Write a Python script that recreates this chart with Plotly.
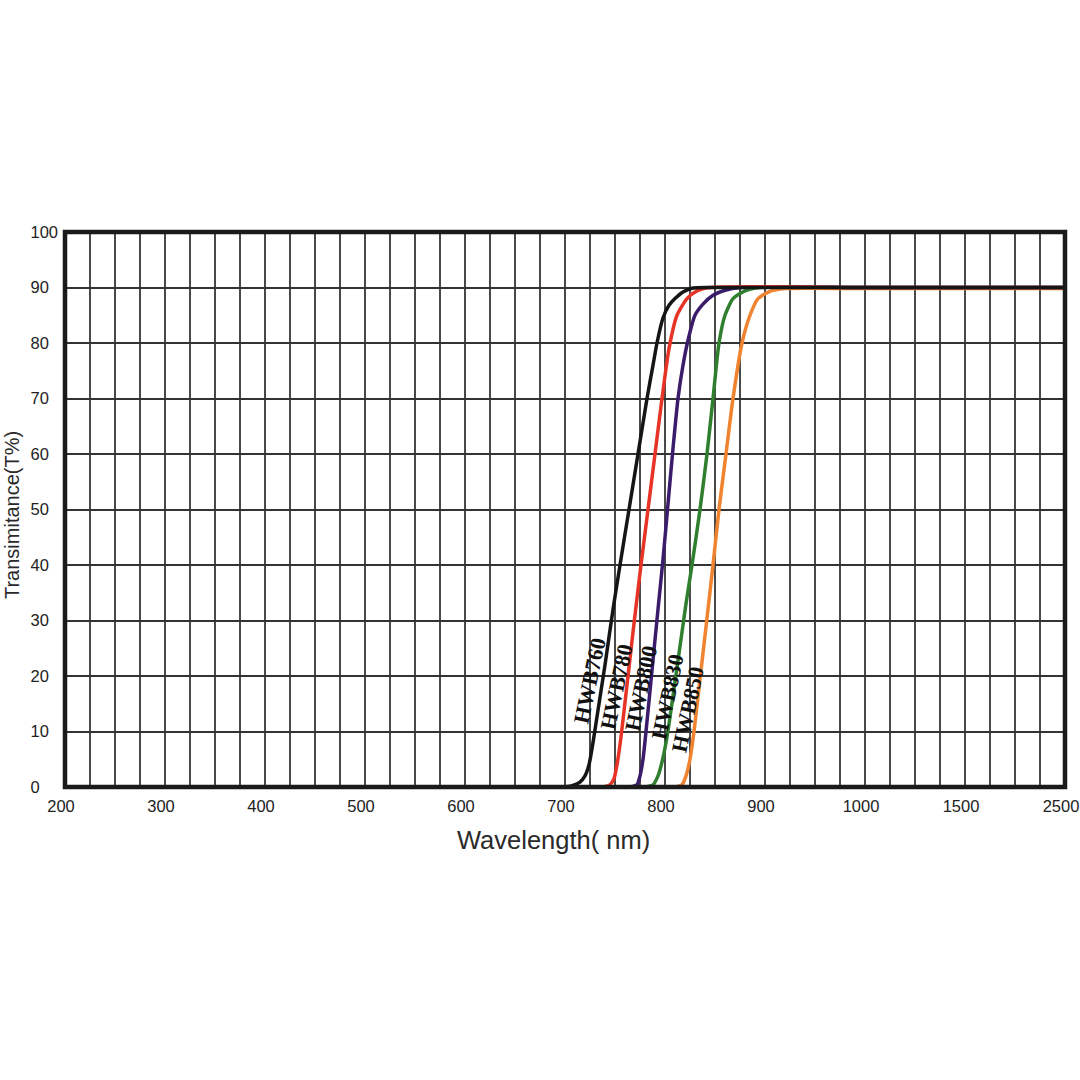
import plotly.graph_objects as go

# ---------------- data ----------------
tick_wavelengths = [200, 300, 400, 500, 600, 700, 800, 900, 1000, 1500, 2500]
tick_labels = ["200", "300", "400", "500", "600", "700", "800", "900", "1000", "1500", "2500"]

series_names = ["HWB760", "HWB780", "HWB800", "HWB830", "HWB850"]

hwb760_wl = [700, 708, 715, 720, 724, 728, 734, 740, 748, 755, 764, 773, 782, 788, 792, 798, 804, 810, 818, 828, 845, 1000, 2500]
hwb760_t = [0, 0.3, 0.9, 2, 4, 8, 15, 22, 32, 40, 50, 60, 70, 76, 80, 84.5, 86.8, 88, 89.2, 89.9, 90, 90, 90]

hwb780_wl = [738, 745, 749, 752, 756, 763, 770, 776, 783, 790, 797, 804, 812, 822, 832, 845, 1000, 2500]
hwb780_t = [0, 0.4, 1.5, 4, 9, 20, 31, 40, 50, 60, 70, 79, 85, 88, 89.4, 90, 90, 90]

hwb800_wl = [765, 772, 775, 778, 781, 787, 793, 798, 803, 808, 813, 818, 823, 830, 838, 848, 860, 875, 1000, 2500]
hwb800_t = [0, 0.4, 2, 5, 10, 21, 32, 41, 51, 61, 70, 76, 80.5, 85, 87, 88.6, 89.5, 90, 90, 90]

hwb830_wl = [780, 788, 793, 797, 802, 812, 821, 827, 835, 842, 848, 854, 860, 868, 880, 895, 1000, 2500]
hwb830_t = [0, 0.4, 2, 4.5, 9, 21.5, 33, 40, 50, 60, 70, 80, 85, 88, 89.4, 90, 90, 90]

hwb850_wl = [810, 817, 821, 825, 829, 836, 843, 848, 854, 861, 868, 877, 885, 893, 905, 920, 1000, 2500]
hwb850_t = [0, 0.4, 2, 5, 10, 21, 32, 40, 50, 60, 70, 80, 85, 88, 89.3, 89.8, 89.8, 89.8]

y_ticks = [0, 10, 20, 30, 40, 50, 60, 70, 80, 90, 100]

# label anchor positions (wavelength, transmittance)
label_wl = [724, 751, 776, 802, 823]
label_t = [19.1, 18.0, 17.7, 16.2, 13.9]

colors = ["#151515", "#e63427", "#3b1c6b", "#2f7f2f", "#f0832f"]


def pos(w):
    """Piecewise axis position used by the chart's wavelength scale."""
    if w <= 1000:
        return (w - 200) / 100.0
    elif w <= 1500:
        return 8 + (w - 1000) / 500.0
    else:
        return 9 + (w - 1500) / 1000.0


series_wl = [hwb760_wl, hwb780_wl, hwb800_wl, hwb830_wl, hwb850_wl]
series_t = [hwb760_t, hwb780_t, hwb800_t, hwb830_t, hwb850_t]

fig = go.Figure()

# draw in reverse so black lies on top of the shared plateau
for i in reversed(range(len(series_names))):
    fig.add_trace(go.Scatter(
        x=[pos(w) for w in series_wl[i]],
        y=series_t[i],
        mode="lines",
        name=series_names[i],
        line=dict(color=colors[i], width=3.5, shape="spline", smoothing=0.6),
        showlegend=False,
        hoverinfo="skip",
    ))

# gridlines every quarter of a labelled interval
grid_vals = [i * 0.25 for i in range(41)]
label_map = {pos(w): t for w, t in zip(tick_wavelengths, tick_labels)}
grid_text = [label_map.get(v, "") for v in grid_vals]

fig.update_xaxes(
    range=[0, 10],
    tickmode="array",
    tickvals=grid_vals,
    ticktext=grid_text,
    showgrid=True,
    gridcolor="#4a4a4a",
    gridwidth=1.5,
    zeroline=False,
    showline=False,
    ticks="",
    tickfont=dict(family="Liberation Sans, Arial, sans-serif", size=16.5, color="#222222"),
    ticklabelstandoff=7,
    ticklabelshift=-4,
    ticklabeloverflow="allow",
    automargin=False,
)

fig.update_yaxes(
    range=[0, 100],
    tickmode="array",
    tickvals=y_ticks,
    ticktext=[str(v) if v == 100 else (str(v) + "\u2007" if v >= 10 else str(v) + "\u2007\u2007") for v in y_ticks],
    showgrid=True,
    gridcolor="#333333",
    gridwidth=1.5,
    zeroline=False,
    showline=False,
    ticks="",
    tickfont=dict(family="Liberation Sans, Arial, sans-serif", size=16.5, color="#222222"),
    ticklabelstandoff=6,
    automargin=False,
)

annotations = []
for i, name in enumerate(series_names):
    annotations.append(dict(
        x=pos(label_wl[i]), y=label_t[i], xref="x", yref="y",
        text=name, showarrow=False, textangle=-78,
        xanchor="center", yanchor="middle",
        font=dict(family="Liberation Serif, Times New Roman, serif", size=22, color="#111111", weight="bold"),
    ))

annotations.append(dict(
    x=0.488, y=-0.0955, xref="paper", yref="paper",
    text="Wavelength( nm)", showarrow=False,
    xanchor="center", yanchor="middle",
    font=dict(family="Liberation Sans, Arial, sans-serif", size=25.5, color="#2a2a2a"),
))
annotations.append(dict(
    x=-0.053, y=0.49, xref="paper", yref="paper",
    text="Transimitance(T%)", showarrow=False, textangle=-90,
    xanchor="center", yanchor="middle",
    font=dict(family="Liberation Sans, Arial, sans-serif", size=20, color="#2a2a2a"),
))

fig.update_layout(
    width=1080, height=1080,
    margin=dict(l=65, r=15, t=232, b=293, autoexpand=False),
    paper_bgcolor="white",
    plot_bgcolor="white",
    annotations=annotations,
    shapes=[dict(
        type="rect", xref="paper", yref="paper", x0=0, y0=0, x1=1, y1=1,
        line=dict(color="#1a1a1a", width=4.5), layer="above",
    )],
)

fig.write_html("out.html")
